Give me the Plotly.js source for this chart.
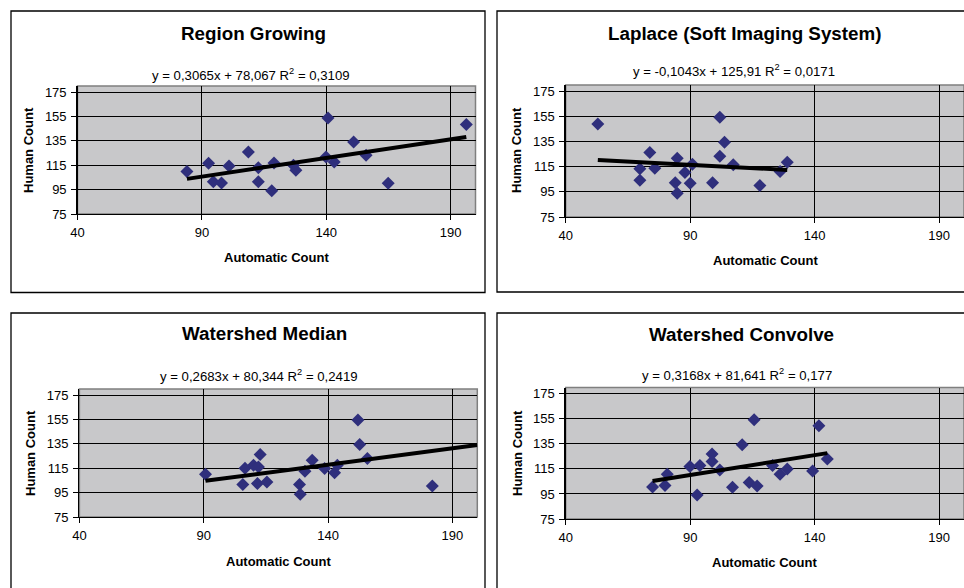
<!DOCTYPE html>
<html>
<head>
<meta charset="utf-8">
<script src="https://cdn.plot.ly/plotly-3.0.1.min.js"></script>
<style>html,body{margin:0;padding:0;background:#fff;}#chart{width:964px;height:588px;}</style>
</head>
<body>
<div id="chart"></div>
<script>
// ---------- DATA ----------
const panelTitles = ["Region Growing", "Laplace (Soft Imaging System)", "Watershed Median", "Watershed Convolve"];
const xAxisTitle = "Automatic Count";
const yAxisTitle = "Human Count";

const regionGrowingX = [84.0, 92.7, 94.6, 97.9, 100.9, 108.7, 112.7, 112.7, 119.0, 118.1, 126.8, 127.8, 140.7, 139.9, 143.2, 151.0, 156.0, 164.9, 196.3];
const regionGrowingY = [109.8, 116.6, 101.4, 100.5, 114.4, 125.8, 113.0, 101.4, 116.8, 94.0, 115.0, 110.9, 153.8, 121.7, 117.7, 134.0, 123.1, 100.3, 148.4];

const laplaceX = [52.9, 73.8, 69.8, 69.8, 75.8, 84.8, 87.9, 84.0, 84.8, 90.0, 90.9, 99.0, 101.9, 103.8, 101.9, 107.3, 118.0, 126.1, 129.0];
const laplaceY = [149.0, 126.3, 113.3, 104.3, 113.8, 121.8, 110.4, 102.2, 93.9, 101.9, 117.0, 102.2, 154.3, 134.5, 123.3, 116.5, 100.0, 111.2, 118.6];

const medianX = [90.7, 105.7, 106.6, 110.0, 112.0, 112.7, 111.6, 115.4, 128.5, 128.8, 130.7, 133.6, 138.6, 142.6, 143.7, 152.0, 152.7, 155.8, 181.9];
const medianY = [110.1, 101.6, 115.0, 117.5, 116.1, 126.2, 102.4, 103.8, 101.6, 93.6, 112.5, 121.6, 114.7, 111.4, 117.5, 154.5, 134.5, 123.0, 100.5];

const convolveX = [74.9, 79.9, 80.8, 89.9, 93.9, 92.8, 98.8, 98.8, 101.9, 107.0, 110.9, 113.7, 116.9, 115.7, 123.1, 126.1, 129.0, 139.2, 141.7, 145.1];
const convolveY = [100.6, 101.7, 110.7, 116.9, 117.7, 94.2, 127.0, 120.9, 114.2, 100.3, 134.2, 104.1, 101.4, 154.2, 117.7, 110.7, 115.0, 113.4, 149.4, 123.0];

const trendSlopes = [0.3065, -0.1043, 0.2683, 0.3168];
const trendIntercepts = [78.067, 125.91, 80.344, 81.641];
const trendR2 = [0.3109, 0.0171, 0.2419, 0.177];
const trendEndX = [196.3, 129.0, 200, 145.1];

const xTickVals = [40, 90, 140, 190];
const yTickVals = [75, 95, 115, 135, 155, 175];

// ---------- LAYOUT / STYLE ----------
const W = 964, H = 588;
const px = v => v / W;
const py = v => 1 - v / H;
const FONT = "Liberation Sans, Arial, sans-serif";
const MARKER = "#2f2f7c";

const seriesX = [regionGrowingX, laplaceX, medianX, convolveX];
const seriesY = [regionGrowingY, laplaceY, medianY, convolveY];

// pixel geometry per panel
const geo = [
  {xd: [77.5, 475.5], yd: [86, 214], title: [253, 33], eq: [251, 74], xt: [276, 258], yt: [29, 150], frame: [11, 11, 485, 292.5]},
  {xd: [565.7, 964], yd: [85, 217], title: [744, 33], eq: [734, 71], xt: [765, 260], yt: [517, 150], frame: [497, 11, 1000, 292]},
  {xd: [79.4, 477.3], yd: [389, 517], title: [264, 333], eq: [259, 375], xt: [278, 561], yt: [30, 453], frame: [11, 313, 485, 620]},
  {xd: [565.7, 964], yd: [387.5, 519], title: [741, 334], eq: [737, 374], xt: [764, 562], yt: [517, 453], frame: [497, 313, 1000, 620]}
];

const fmt = v => String(v).replace('.', ',');

const traces = [];
const layout = {
  width: W, height: H,
  margin: {l: 0, r: 0, t: 0, b: 0},
  paper_bgcolor: "#ffffff",
  plot_bgcolor: "#c8c8ca",
  showlegend: false,
  font: {family: FONT, color: "#000"},
  annotations: [],
  shapes: []
};

geo.forEach((g, i) => {
  const n = i === 0 ? "" : String(i + 1);
  const xa = "x" + n, ya = "y" + n;
  traces.push({
    type: "scatter", mode: "markers", x: seriesX[i], y: seriesY[i],
    xaxis: xa, yaxis: ya,
    marker: {symbol: "diamond", size: 10, color: MARKER, line: {width: 0}},
    cliponaxis: true, hoverinfo: "x+y"
  });
  const x0 = Math.min(...seriesX[i]);
  const x1 = trendEndX[i];
  traces.push({
    type: "scatter", mode: "lines",
    x: [x0, x1],
    y: [trendSlopes[i] * x0 + trendIntercepts[i], trendSlopes[i] * x1 + trendIntercepts[i]],
    xaxis: xa, yaxis: ya,
    line: {color: "#000", width: 4}, hoverinfo: "skip"
  });
  const common = {
    showgrid: true, gridcolor: "#000", gridwidth: 1,
    showline: true, linecolor: "#000", linewidth: 1.3,
    ticks: "outside", ticklen: 5, tickcolor: "#000", tickwidth: 1,
    tickfont: {family: FONT, size: 13, color: "#000"},
    zeroline: false, fixedrange: true
  };
  layout["xaxis" + n] = Object.assign({}, common, {
    domain: [px(g.xd[0]), px(g.xd[1])], range: [40, 200],
    tickmode: "array", tickvals: xTickVals, ticktext: xTickVals.map(String),
    anchor: ya, ticklabelstandoff: 1
  });
  layout["yaxis" + n] = Object.assign({}, common, {
    domain: [py(g.yd[1]), py(g.yd[0])], range: [75, 180],
    tickmode: "array", tickvals: yTickVals, ticktext: yTickVals.map(String),
    anchor: xa, ticklabelstandoff: 2
  });
  // plot-area border (gray, top/right)
  layout.shapes.push({
    type: "rect", xref: xa + " domain", yref: ya + " domain",
    x0: 0, x1: 1, y0: 0, y1: 1, line: {color: "#7f7f7f", width: 1.5}, layer: "below"
  });
  // chart frame
  layout.shapes.push({
    type: "rect", xref: "paper", yref: "paper",
    x0: px(g.frame[0]), x1: px(g.frame[2]), y0: py(g.frame[3]), y1: py(g.frame[1]),
    line: {color: "#000", width: 1.3}, layer: "above"
  });
  // title
  layout.annotations.push({
    xref: "paper", yref: "paper", x: px(g.title[0]), y: py(g.title[1]),
    xanchor: "center", yanchor: "middle", showarrow: false,
    text: "<b>" + panelTitles[i] + "</b>", font: {family: FONT, size: 18.8, color: "#000"}
  });
  // equation
  const b = trendIntercepts[i];
  const eq = "y = " + fmt(trendSlopes[i]) + "x + " + fmt(b) + " R<sup>2</sup> = " + fmt(trendR2[i]);
  layout.annotations.push({
    xref: "paper", yref: "paper", x: px(g.eq[0]), y: py(g.eq[1]),
    xanchor: "center", yanchor: "middle", showarrow: false,
    text: eq, font: {family: FONT, size: 13.2, color: "#000"}
  });
  // x axis title
  layout.annotations.push({
    xref: "paper", yref: "paper", x: px(g.xt[0]), y: py(g.xt[1]),
    xanchor: "center", yanchor: "middle", showarrow: false,
    text: "<b>" + xAxisTitle + "</b>", font: {family: FONT, size: 13, color: "#000"}
  });
  // y axis title
  layout.annotations.push({
    xref: "paper", yref: "paper", x: px(g.yt[0]), y: py(g.yt[1]),
    xanchor: "center", yanchor: "middle", showarrow: false, textangle: -90,
    text: "<b>" + yAxisTitle + "</b>", font: {family: FONT, size: 13, color: "#000"}
  });
});

Plotly.newPlot("chart", traces, layout, {displayModeBar: false, staticPlot: true});
</script>
</body>
</html>
